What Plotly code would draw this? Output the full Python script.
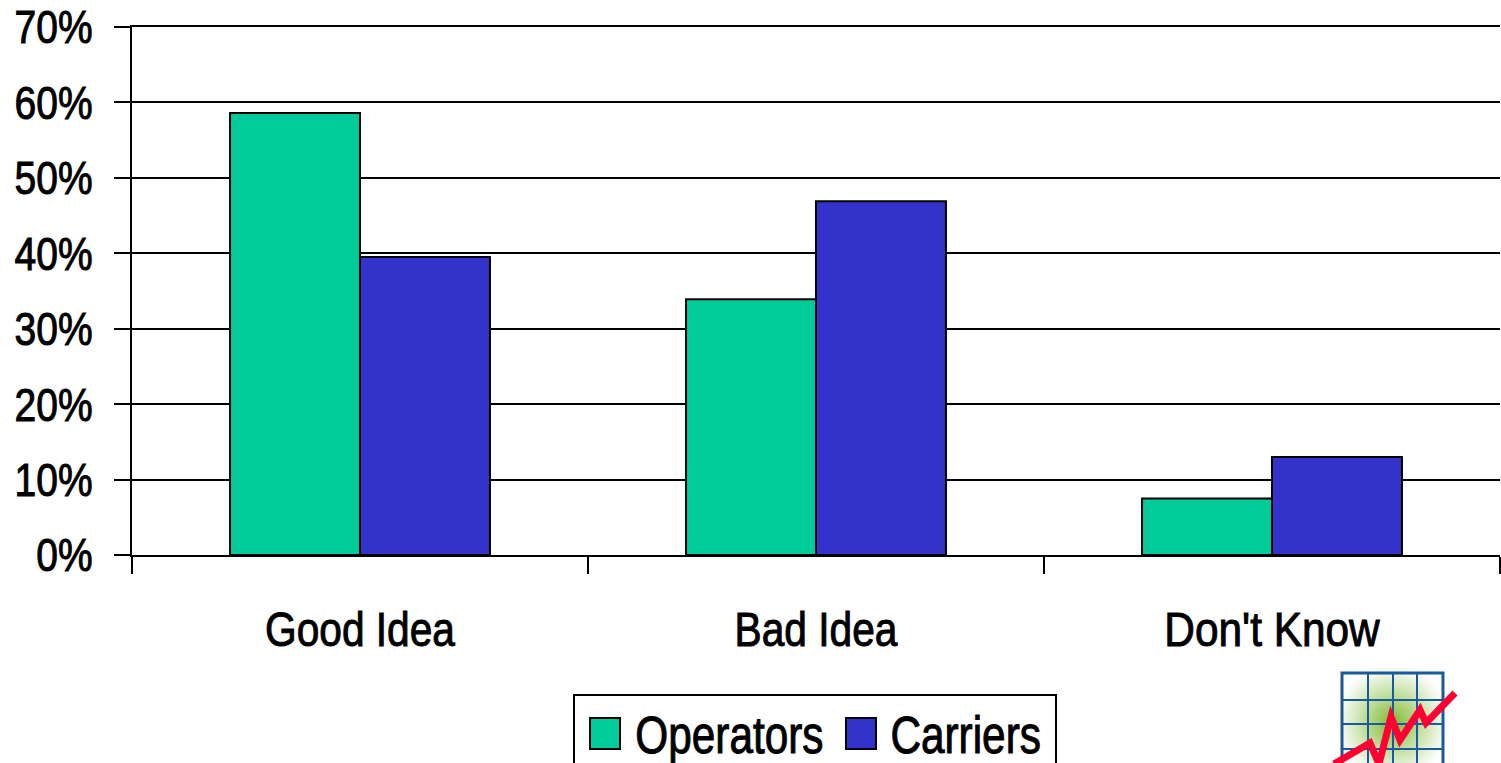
import base64, struct, zlib
import numpy as np
import plotly.graph_objects as go

categories = ["Good Idea", "Bad Idea", "Don't Know"]
operators = [58.6, 33.9, 7.5]
carriers = [39.5, 46.9, 13.0]
y_ticks = [0, 10, 20, 30, 40, 50, 60, 70]
y_tick_labels = ["0%", "10%", "20%", "30%", "40%", "50%", "60%", "70%"]
series_names = ["Operators", "Carriers"]
series_colors = ["#00CC99", "#3333CC"]
FONT = "Liberation Sans"
W, H = 1501, 763
L, R, T, B = 132, 1500, 27, 555


def px(x):
    return (x - L) / (R - L)


def py(y):
    return (B - y) / (B - T)


def glow_png(n=116):
    yy, xx = np.mgrid[0:n, 0:n]
    r = np.hypot(xx - n / 2, yy - n / 2) / (n / 2)
    a = np.clip(1 - r, 0, 1) ** 1.1
    img = np.zeros((n, n, 4), dtype=np.uint8)
    img[..., 0], img[..., 1], img[..., 2] = 125, 185, 50
    img[..., 3] = (a * 255).astype(np.uint8)
    raw = b"".join(b"\x00" + img[i].tobytes() for i in range(n))

    def chunk(t, d):
        return struct.pack(">I", len(d)) + t + d + struct.pack(">I", zlib.crc32(t + d))

    png = (b"\x89PNG\r\n\x1a\n" + chunk(b"IHDR", struct.pack(">IIBBBBB", n, n, 8, 6, 0, 0, 0))
           + chunk(b"IDAT", zlib.compress(raw)) + chunk(b"IEND", b""))
    return "data:image/png;base64," + base64.b64encode(png).decode()


fig = go.Figure()
for name, vals, col in zip(series_names, [operators, carriers], series_colors):
    fig.add_bar(x=categories, y=vals, name=name, marker=dict(color=col, line=dict(color="black", width=2)))

shapes = []


def rect(x0, y0, x1, y1, fill="rgba(0,0,0,0)", lw=2, lc="black"):
    shapes.append(dict(type="rect", xref="paper", yref="paper", x0=px(x0), x1=px(x1), y0=py(y0), y1=py(y1),
                       fillcolor=fill, line=dict(color=lc, width=lw)))


# legend box and swatches
rect(574, 695, 1056, 790, "white")
rect(590, 718, 620, 749, series_colors[0])
rect(846, 718, 876, 749, series_colors[1])

# logo grid
BLUE = "#1A5A9C"
for x in (1368, 1393, 1417):
    shapes.append(dict(type="line", xref="paper", yref="paper", x0=px(x), x1=px(x), y0=py(673), y1=py(790),
                       line=dict(color=BLUE, width=2)))
for y in (700, 724, 749):
    shapes.append(dict(type="line", xref="paper", yref="paper", x0=px(1342), x1=px(1443), y0=py(y), y1=py(y),
                       line=dict(color=BLUE, width=2)))
rect(1342, 673, 1443, 790, lw=3, lc=BLUE)
logo_pts = [(1334, 764), (1370, 743), (1379, 764), (1391, 717), (1400, 740), (1420, 710), (1426, 723), (1455, 693)]
path = "M " + " L ".join(f"{px(x):.5f},{py(y):.5f}" for x, y in logo_pts)
shapes.append(dict(type="path", xref="paper", yref="paper", path=path,
                   line=dict(color="#FF0033", width=7)))

annotations = [
    dict(xref="paper", yref="paper", x=px(729), y=py(735), text=series_names[0], showarrow=False,
         xanchor="center", yanchor="middle", font=dict(family=FONT, size=51, color="black")),
    dict(xref="paper", yref="paper", x=px(965.5), y=py(735), text=series_names[1], showarrow=False,
         xanchor="center", yanchor="middle", font=dict(family=FONT, size=51, color="black")),
]

fig.update_layout(
    width=W, height=H, autosize=False,
    margin=dict(l=L, r=W - R, t=T, b=H - B, pad=0, autoexpand=False),
    paper_bgcolor="white", plot_bgcolor="white",
    barmode="group", bargap=0.43, bargroupgap=0,
    showlegend=False, shapes=shapes, annotations=annotations,
    images=[dict(source=glow_png(), xref="paper", yref="paper", x=px(1334), y=py(664),
                 sizex=116 / (R - L), sizey=116 / (B - T), sizing="stretch", layer="below",
                 xanchor="left", yanchor="top")],
    xaxis=dict(type="category", automargin=False, tickson="boundaries", ticks="outside", ticklen=17, tickwidth=2,
               tickcolor="black", showline=True, mirror=True, linecolor="black", linewidth=2, showgrid=False,
               ticklabelstandoff=30, tickfont=dict(family=FONT, size=49, color="black")),
    yaxis=dict(range=[0, 70], automargin=False, tickmode="array", tickvals=y_ticks, ticktext=y_tick_labels,
               ticks="outside", ticklen=16, tickwidth=2, tickcolor="black", showline=True, linecolor="black",
               linewidth=2, showgrid=True, gridcolor="black", gridwidth=2, zeroline=False, ticklabelstandoff=12,
               tickfont=dict(family=FONT, size=47, color="black")),
)

post = """
document.body.style.margin='0';document.body.style.overflow='hidden';
(function(){
  var gd=document.getElementById('{plot_id}');
  function narrow(){
    gd.querySelectorAll('.xtick text,.ytick text,.annotation-text').forEach(function(t){
      if(t.hasAttribute('textLength'))return;
      var n=t.getComputedTextLength(); if(!n)return;
      var k=t.textContent.indexOf('Know')>=0?0.865:0.83;
      t.setAttribute('lengthAdjust','spacingAndGlyphs');
      t.setAttribute('textLength',(n*k).toFixed(1));
      t.style.stroke='black';t.style.strokeWidth='1px';
    });
  }
  narrow(); if(gd.on)gd.on('plotly_afterplot',narrow);
  [50,200,500].forEach(function(d){setTimeout(narrow,d);});
})();
"""
fig.write_html("out.html", post_script=post, config=dict(displayModeBar=False))
